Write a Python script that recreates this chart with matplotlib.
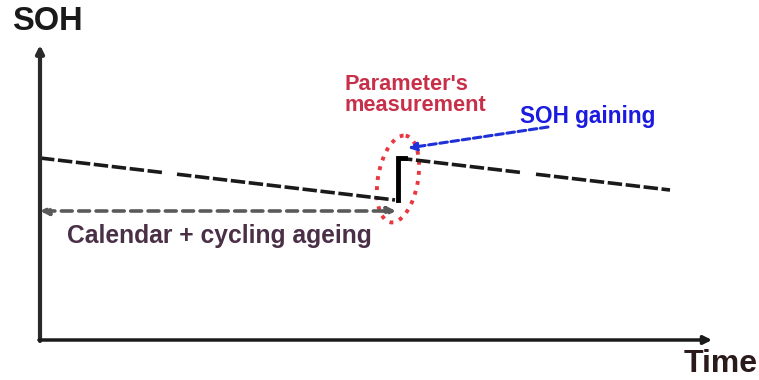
import matplotlib.pyplot as plt
import numpy as np
from matplotlib.patches import Ellipse

plt.rcParams["font.family"] = ["Liberation Sans", "DejaVu Sans"]

# schematic values, in picture pixels (x: time, y: SOH, y grows downward)
axis_origin = (40, 340)
axis_x_end = 712
axis_y_end = 45

# SOH trend before and after the parameter measurement
before_time = [40, 395]
before_soh = [158, 200]
after_time = [398, 670]
after_soh = [158, 190]
gap_before = (163, 177)
gap_after = (521, 536)

step_time = [398, 398, 405]
step_soh = [200, 158, 158]

ageing_arrow_y = 211
ageing_arrow_x = (40, 396)

ellipse_center = (398, 179)
ellipse_size = (40, 88)
ellipse_angle = 10

gain_arrow_start = (548, 127)
gain_arrow_end = (408, 148)

labels = {
    "soh": "SOH",
    "time": "Time",
    "ageing": "Calendar + cycling ageing",
    "measure": "Parameter's\nmeasurement",
    "gain": "SOH gaining",
}


def draw_trend(ax, t, s, gap):
    t0, t1 = t
    gx = np.array(gap, dtype=float)
    gy = np.interp(gx, t, s)
    style = dict(color="#1a1a1a", lw=2.6, linestyle=(0, (4, 1)),
                 dash_capstyle="butt")
    ax.plot([t0, gx[0]], [s[0], gy[0]], **style)
    ax.plot([gx[1], t1], [gy[1], s[1]], **style)


def main() -> None:
    fig = plt.figure(figsize=(7.59, 3.80), dpi=100)
    ax = fig.add_axes([0, 0, 1, 1])
    ax.set_xlim(0, 759)
    ax.set_ylim(380, 0)
    ax.axis("off")

    ox, oy = axis_origin
    # axes
    ax.annotate("", xy=(ox, axis_y_end), xytext=(ox, oy + 1),
                arrowprops=dict(arrowstyle="-|>", color="#2a2a2a", lw=3,
                                mutation_scale=11, shrinkA=0, shrinkB=0))
    ax.annotate("", xy=(axis_x_end, oy), xytext=(ox - 1, oy),
                arrowprops=dict(arrowstyle="-|>", color="#1a1a1a", lw=2.5,
                                mutation_scale=12, shrinkA=0, shrinkB=0))
    ax.text(12, 22, labels["soh"], fontsize=23.5, fontweight="bold",
            color="#1a1a1a", va="center", ha="left")
    ax.text(684, 364, labels["time"], fontsize=23, fontweight="bold",
            color="#2a1a1a", va="center", ha="left")

    draw_trend(ax, before_time, before_soh, gap_before)
    draw_trend(ax, after_time, after_soh, gap_after)
    ax.plot(step_time, step_soh, color="black", lw=3.5, solid_joinstyle="miter")

    # ageing arrow
    ax.annotate("", xy=(ageing_arrow_x[1], ageing_arrow_y),
                xytext=(ageing_arrow_x[0], ageing_arrow_y),
                arrowprops=dict(arrowstyle="<|-|>", color="#5a5a5a", lw=2.6,
                                linestyle=(0, (3, 1.8)), mutation_scale=12,
                                shrinkA=0, shrinkB=0))
    ax.text(67, 236, labels["ageing"], fontsize=17.7, fontweight="bold",
            color="#4a3046", va="center", ha="left")

    # measurement ellipse
    ax.add_patch(Ellipse(ellipse_center, ellipse_size[0], ellipse_size[1],
                         angle=ellipse_angle, fill=False, edgecolor="#e8373f",
                         lw=2.8, linestyle=(0, (1, 1.6))))
    ax.text(345, 95, labels["measure"], fontsize=15.7, fontweight="bold",
            color="#c8304a", va="center", ha="left", linespacing=1.0)

    # SOH gaining arrow
    ax.annotate("", xy=gain_arrow_end, xytext=gain_arrow_start,
                arrowprops=dict(arrowstyle="-|>", color="#2030d8", lw=2.2,
                                linestyle=(0, (2.5, 1.2)), mutation_scale=12,
                                shrinkA=0, shrinkB=0))
    ax.text(520, 117, labels["gain"], fontsize=16.3, fontweight="bold",
            color="#1a1ae0", va="center", ha="left")

    fig.savefig("out.png", dpi=100)
    plt.close(fig)


if __name__ == "__main__":
    main()
